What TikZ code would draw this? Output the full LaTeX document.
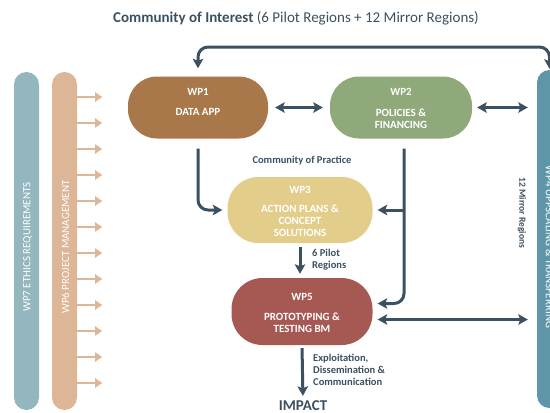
\documentclass[tikz,border=0pt]{standalone}
\usepackage{fontspec}
\setmainfont{Carlito}
\usetikzlibrary{arrows.meta}

\definecolor{ink}{RGB}{59,80,96}
\definecolor{wpone}{RGB}{168,120,75}
\definecolor{wptwo}{RGB}{143,169,123}
\definecolor{wpthree}{RGB}{227,205,138}
\definecolor{wpfive}{RGB}{166,88,82}
\definecolor{ethics}{RGB}{148,182,190}
\definecolor{manage}{RGB}{220,182,150}
\definecolor{upscale}{RGB}{94,150,168}

\begin{document}
\begin{tikzpicture}[x=1pt,y=-1pt,
  wpbox/.style={draw=none, rounded corners=29pt, inner sep=0pt},
  boxtext/.style={text=white, anchor=north, align=center, inner sep=0pt,
    font=\fontsize{11}{12}\selectfont\bfseries},
  bar/.style={draw=none, rounded corners=12.5pt, minimum width=25pt,
    minimum height=338pt, inner sep=0pt},
  bartext/.style={text=white, inner sep=0pt, font=\fontsize{11}{12}\selectfont},
  flow/.style={draw=ink, line width=3pt, -{Stealth[length=9.5pt,width=10.5pt,inset=2pt]}},
  both/.style={draw=ink, line width=3pt,
    {Stealth[length=9.5pt,width=10.5pt,inset=2pt]}-{Stealth[length=9.5pt,width=10.5pt,inset=2pt]}},
  label/.style={text=ink, align=left, inner sep=0pt,
    font=\fontsize{10.5}{11.8}\selectfont\bfseries},
  pm/.style={draw=manage, line width=2.5pt, -{Triangle[length=7pt,width=9pt]}},
]
\useasboundingbox (0,0) rectangle (550,413);
\clip (0,0) rectangle (550,413);

% heading
\node[text=ink, inner sep=0pt, font=\fontsize{15}{17}\selectfont] (title) at (296,18)
  {\textbf{Community of Interest} (6 Pilot Regions + 12 Mirror Regions)};

% side bars
\node[bar, fill=ethics] (wp7) at (26.5,241) {};
\node[bar, fill=manage] (wp6) at (64.5,241) {};
\node[bar, fill=upscale] (wp4) at (549.5,239) {};
\node[bartext, rotate=90] (wp7-label) at (27.5,247) {WP7 ETHICS REQUIREMENTS};
\node[bartext, rotate=90] (wp6-label) at (65.5,247) {WP6 PROJECT MANAGEMENT};
\node[bartext, rotate=-90] (wp4-label) at (549.5,247) {WP4 UPPSCALING \& TRANSFERRING};

% project management arrows
\foreach \k in {0,...,11} {
  \coordinate (pm\k) at (wp6.east |- 0,{97+26*\k});
  \draw[pm] (pm\k) -- ++(25,0);
}

% work package boxes
\node[wpbox, fill=wpone, minimum width=140pt, minimum height=62pt] (wp1) at (198,107.5) {};
\node[wpbox, fill=wptwo, minimum width=142pt, minimum height=62pt] (wp2) at (401,107.5) {};
\node[wpbox, fill=wpthree, minimum width=145pt, minimum height=66pt, rounded corners=31pt] (wp3) at (300,210) {};
\node[wpbox, fill=wpfive, minimum width=141pt, minimum height=67pt, rounded corners=31pt] (wp5) at (302,311.5) {};

\node[boxtext] (wp1-text) at ([yshift=-12pt]wp1.north) {WP1\\[8pt]DATA APP};
\node[boxtext] (wp2-text) at ([yshift=-12pt]wp2.north) {WP2\\[9pt]POLICIES \&\\FINANCING};
\node[boxtext] (wp3-text) at ([yshift=-9pt]wp3.north) {WP3\\[7pt]ACTION PLANS \&\\CONCEPT\\SOLUTIONS};
\node[boxtext] (wp5-text) at ([yshift=-15pt]wp5.north) {WP5\\[8pt]PROTOTYPING \&\\TESTING BM};

% labels
\node[label] (cop) at (302,161) {Community of Practice};
\node[label, anchor=west] (pilot) at (312,259.5) {6 Pilot\\Regions};
\node[label, anchor=west] (expl) at (313,370) {Exploitation,\\Dissemination \&\\Communication};
\node[label, rotate=-90, font=\fontsize{9.5}{11}\selectfont\bfseries] (mirror) at (522,213) {12 Mirror Regions};
\node[text=ink, inner sep=0pt, font=\fontsize{15}{17}\selectfont\bfseries] (impact) at (303,406) {IMPACT};

% connectors
\coordinate (topline) at (0,47);
\coordinate (topR) at (wp4.north |- topline);
\draw[both, rounded corners=10pt, shorten <=8pt, shorten >=1pt] (wp1.north) |- (topR) -- (wp4.north);

\draw[both, shorten <=7pt, shorten >=7pt] (wp1.east) -- (wp2.west);
\draw[both, shorten <=5pt, shorten >=9pt] (wp2.east) -- (wp2.east -| wp4.west);

\draw[flow, rounded corners=10pt, shorten <=10pt, shorten >=5pt] (wp1.south) |- (wp3.west);

\coordinate (wp2down) at ([xshift=3pt]wp2.south);
\coordinate (wp5in) at ([yshift=8pt]wp5.east);
\draw[flow, rounded corners=10pt, shorten <=10pt, shorten >=5pt] (wp2down) |- (wp5in);
\coordinate (junction) at (wp2down |- wp3.east);
\draw[flow, shorten >=5pt] (junction) -- (wp3.east);

\draw[flow, shorten <=4pt, shorten >=4pt] (wp3.south) -- (wp3.south |- wp5.north);

\coordinate (wp5out) at ([yshift=-8pt]wp5.east);
\draw[both, shorten <=5pt, shorten >=9pt] (wp5out) -- (wp5out -| wp4.west);

\draw[flow, shorten <=3pt, shorten >=5pt] (wp5.south) -- (impact.north);
\end{tikzpicture}
\end{document}
